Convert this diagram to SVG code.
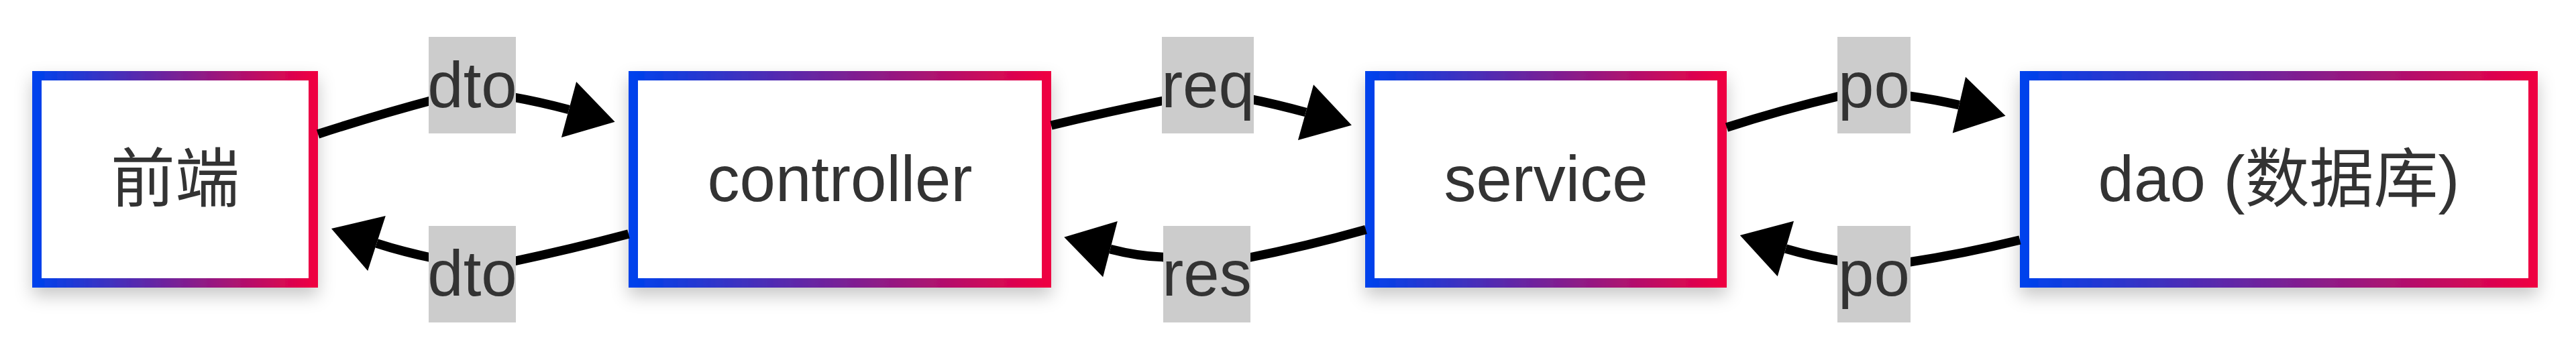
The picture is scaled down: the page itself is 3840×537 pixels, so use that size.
<svg xmlns="http://www.w3.org/2000/svg" width="3840" height="537" viewBox="0 0 3840 537">
<style>
.node rect{fill:#fff;stroke:url(#grad);stroke-width:14;filter:url(#shadow)}
.ntext{font-family:"Liberation Sans",Arial,"Noto Sans CJK SC",sans-serif;font-size:96px;fill:#333;text-anchor:middle}
.edge{fill:none;stroke:#000;stroke-width:13.5;marker-end:url(#arrow)}
.lbox{fill:#ccc}
.ltext{font-family:"Liberation Sans",Arial,sans-serif;font-size:96px;fill:#333;text-anchor:middle}
</style>
<defs>
<linearGradient id="grad" x1="0" y1="0" x2="1" y2="0">
<stop offset="0" stop-color="#0042EC"/>
<stop offset="1" stop-color="#EE0042"/>
</linearGradient>
<filter id="shadow" x="-20%" y="-30%" width="140%" height="170%">
<feDropShadow dx="0" dy="12" stdDeviation="13" flood-color="#000" flood-opacity="0.22"/>
</filter>
<marker id="arrow" markerUnits="userSpaceOnUse" orient="auto" refX="0" refY="0" markerWidth="80" markerHeight="100" viewBox="0 -50 80 100" overflow="visible">
<path d="M0,-43 L71,0 L0,43 Z" fill="#000"/>
</marker>
</defs>
<rect width="3840" height="537" fill="#fff"/>
<g id="node-frontend" class="node">
<rect x="55" y="113" width="412" height="309"/>
<text class="ntext" x="261" y="300">前端</text>
</g>
<g id="node-controller" class="node">
<rect x="944" y="113" width="616" height="309"/>
<text class="ntext" x="1252" y="300">controller</text>
</g>
<g id="node-service" class="node">
<rect x="2042" y="113" width="525" height="309"/>
<text class="ntext" x="2304.5" y="300">service</text>
</g>
<g id="node-dao" class="node">
<rect x="3018" y="113" width="758" height="309"/>
<text class="ntext" x="3397" y="300">dao (数据库)</text>
</g>
<g id="connectors">
<path class="edge" d="M474,200 Q560,172 650,148 Q704,134 760,144 Q805,152 848,163.5"/>
<path class="edge" d="M937,349 Q850,372 760,391 Q704,402 650,386 Q600,375.5 561.5,363"/>
<path class="edge" d="M1567,187 Q1650,167 1740,149 Q1800,136 1860,147 Q1905,156 1946.5,167.6"/>
<path class="edge" d="M2036,342.5 Q1950,367 1856,385.5 Q1800,399 1734,383.6 Q1695,382 1655,371.6"/>
<path class="edge" d="M2574,190 Q2655,164 2745,142.5 Q2793,130 2848,143.5 Q2885,148.5 2920.4,156.7"/>
<path class="edge" d="M3011,358 Q2930,378 2840,392 Q2793,401 2739,388.7 Q2700,382.3 2661.9,371.1"/>
<g id="label-dto-1"><rect class="lbox" x="639" y="55" width="130" height="144"/><text class="ltext" x="704" y="160">dto</text></g>
<g id="label-dto-2"><rect class="lbox" x="639" y="337" width="130" height="144"/><text class="ltext" x="704" y="441">dto</text></g>
<g id="label-req"><rect class="lbox" x="1732" y="55" width="137" height="144"/><text class="ltext" x="1800.5" y="160">req</text></g>
<g id="label-res"><rect class="lbox" x="1734" y="337" width="130" height="144"/><text class="ltext" x="1799" y="441">res</text></g>
<g id="label-po-1"><rect class="lbox" x="2739" y="55" width="109" height="144"/><text class="ltext" x="2793.5" y="160">po</text></g>
<g id="label-po-2"><rect class="lbox" x="2739" y="337" width="109" height="144"/><text class="ltext" x="2793.5" y="441">po</text></g>
</g>
</svg>
